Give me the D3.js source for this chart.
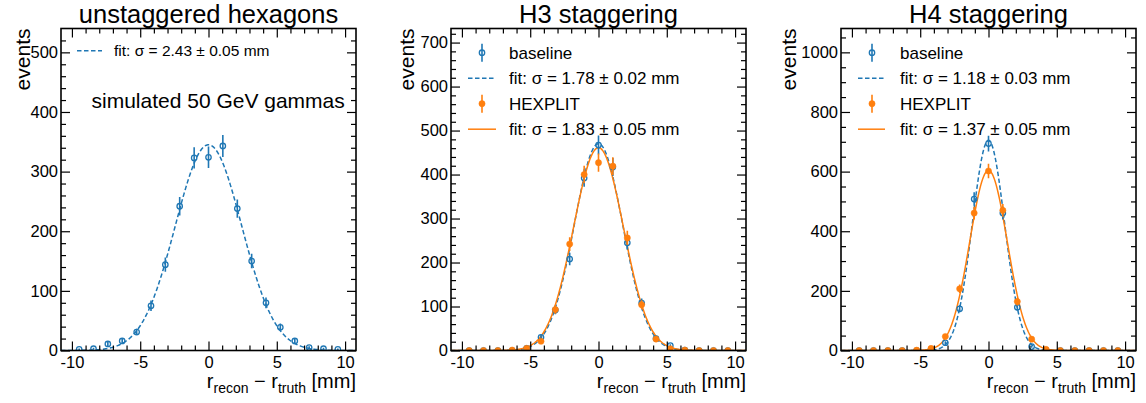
<!DOCTYPE html>
<html>
<head>
<meta charset="utf-8">
<script src="https://cdn.jsdelivr.net/npm/d3@7"></script>
<style>
  body { margin: 0; background: #fff; }
  text { font-family: "Liberation Sans", Arial, Helvetica, sans-serif; fill: #000; }
</style>
</head>
<body>
<div id="chart"></div>
<script>
// bin centres of the 19 bins between -10 and 10 mm
var binCenters = [-9.47, -8.42, -7.37, -6.32, -5.26, -4.21, -3.16, -2.11, -1.05, 0,
                  1.05, 2.11, 3.16, 4.21, 5.26, 6.32, 7.37, 8.42, 9.47]

var unstaggered = [2, 3, 11, 16, 31, 75, 144, 242, 323, 324, 343, 238, 150, 80, 39, 16, 5, 3, 2]
var h3Baseline  = [0, 0, 0, 0, 5, 30, 92, 208, 392, 467, 417, 245, 108, 27, 11, 1, 0, 0, 0]
var h3Hexplit   = [0, 0, 0, 1, 5, 21, 93, 242, 400, 427, 419, 256, 104, 26, 4, 1, 0, 0, 0]
var h4Baseline  = [0, 0, 0, 0, 0, 1, 26, 140, 508, 694, 461, 145, 13, 1, 0, 0, 0, 0, 0]
var h4Hexplit   = [0, 0, 0, 0, 1, 7, 47, 207, 461, 602, 470, 164, 38, 4, 0, 0, 0, 0, 0]

// gaussian fit results: [amplitude, mean, sigma]
var fitUnstaggered = [345, 0, 2.43]
var fitH3Baseline  = [470, 0, 1.78]
var fitH3Hexplit   = [461, 0, 1.83]
var fitH4Baseline  = [705, 0, 1.18]
var fitH4Hexplit   = [604, 0, 1.37]

var titles = ['unstaggered hexagons', 'H3 staggering', 'H4 staggering']
var xTicks = [-10, -5, 0, 5, 10]

var blue = '#1f77b4', orange = '#ff7f0e'

var width = 1146, height = 403
var top_ = 28.5, bottom_ = 350.5, panelW = 295

var svg = d3.select('#chart').append('svg')
  .attr('width', width)
  .attr('height', height)

var panels = [
  { left: 61, ymax: 540, yMajor: 100, yMinor: 20, ylabX: -31,
    series: [{ vals: unstaggered, color: blue, open: true, fit: fitUnstaggered, dashed: true }],
    legend: [{ type: 'line', color: blue, dashed: true, label: 'fit: σ = 2.43 ± 0.05 mm' }],
    legendSize: 15.5, legendY: 50.7, legendStep: 25.5, lineX: [16, 41], markX: 29, textX: 53,
    note: 'simulated 50 GeV gammas' },
  { left: 451, ymax: 732, yMajor: 100, yMinor: 20, ylabX: -37,
    series: [{ vals: h3Baseline, color: blue, open: true, fit: fitH3Baseline, dashed: true },
             { vals: h3Hexplit, color: orange, open: false, fit: fitH3Hexplit, dashed: false }],
    legend: [{ type: 'mark', color: blue, open: true, label: 'baseline' },
             { type: 'line', color: blue, dashed: true, label: 'fit: σ = 1.78 ± 0.02 mm' },
             { type: 'mark', color: orange, open: false, label: 'HEXPLIT' },
             { type: 'line', color: orange, dashed: false, label: 'fit: σ = 1.83 ± 0.05 mm' }],
    legendSize: 17, legendY: 52.7, legendStep: 25.5, lineX: [17, 45], markX: 31, textX: 58 },
  { left: 841, ymax: 1080, yMajor: 200, yMinor: 50, ylabX: -45,
    series: [{ vals: h4Baseline, color: blue, open: true, fit: fitH4Baseline, dashed: true },
             { vals: h4Hexplit, color: orange, open: false, fit: fitH4Hexplit, dashed: false }],
    legend: [{ type: 'mark', color: blue, open: true, label: 'baseline' },
             { type: 'line', color: blue, dashed: true, label: 'fit: σ = 1.18 ± 0.03 mm' },
             { type: 'mark', color: orange, open: false, label: 'HEXPLIT' },
             { type: 'line', color: orange, dashed: false, label: 'fit: σ = 1.37 ± 0.05 mm' }],
    legendSize: 17, legendY: 52.7, legendStep: 25.5, lineX: [17, 44], markX: 31, textX: 59 }
]

function gauss(p, x) {
  return p[0] * Math.exp(-0.5 * Math.pow((x - p[1]) / p[2], 2))
}

function drawMarker(g, x, y, err, color, open) {
  g.append('line')
    .attr('x1', x).attr('x2', x)
    .attr('y1', y - err).attr('y2', y + err)
    .style('stroke', color)
    .style('stroke-width', 1.6)
  g.append('circle')
    .attr('cx', x).attr('cy', y)
    .attr('r', open ? 2.7 : 3.1)
    .style('fill', open ? 'none' : color)
    .style('stroke', color)
    .style('stroke-width', open ? 1.3 : 0.5)
}

panels.forEach(function(p, k) {
  var xScale = d3.scaleLinear().domain([-10.8, 10.8]).range([0, panelW])
  var yScale = d3.scaleLinear().domain([0, p.ymax]).range([bottom_ - top_, 0])
  var h = bottom_ - top_

  var g = svg.append('g')
    .attr('transform', 'translate(' + p.left + ',' + top_ + ')')

  svg.append('clipPath').attr('id', 'clip' + k)
    .append('rect').attr('width', panelW).attr('height', h)

  var plot = g.append('g').attr('clip-path', 'url(#clip' + k + ')')

  // fit curves
  var xs = d3.range(-10.8, 10.81, 0.05)
  p.series.forEach(function(s) {
    var line = d3.line()
      .x(function(d) { return xScale(d) })
      .y(function(d) { return yScale(gauss(s.fit, d)) })
    plot.append('path')
      .attr('d', line(xs))
      .style('fill', 'none')
      .style('stroke', s.color)
      .style('stroke-width', 1.5)
      .style('stroke-dasharray', s.dashed ? '4.5,2.5' : null)
  })

  // data points with sqrt(N) errors
  p.series.forEach(function(s) {
    s.vals.forEach(function(v, i) {
      var err = Math.sqrt(v)
      var y0 = yScale(v)
      var e = yScale(v - err) - y0
      drawMarker(plot, xScale(binCenters[i]), y0, e, s.color, s.open)
    })
  })

  // axes, ticks inward on all sides
  var yMinorTicks = d3.range(0, p.ymax, p.yMinor).filter(function(d) { return d % p.yMajor !== 0 })
  var yMajorTicks = d3.range(0, p.ymax, p.yMajor)
  var xMinorTicks = d3.range(-10, 11, 1).filter(function(d) { return d % 5 !== 0 })

  function style(a) {
    a.select('.domain').remove()
    a.selectAll('line').style('stroke', '#000').style('stroke-width', 1.2)
    a.selectAll('text').style('font-size', '16.5px')
      .style('font-family', '"Liberation Sans", Arial, sans-serif')
  }

  g.append('g').attr('transform', 'translate(0,' + h + ')')
    .call(d3.axisBottom(xScale).tickValues(xTicks).tickSize(-9).tickPadding(6)
      .tickFormat(function(d) { return String(d) }))
    .call(style)
  g.append('g').attr('transform', 'translate(0,' + h + ')')
    .call(d3.axisBottom(xScale).tickValues(xMinorTicks).tickSize(-5).tickFormat(''))
    .call(style)
  g.append('g')
    .call(d3.axisTop(xScale).tickValues(xTicks).tickSize(-9).tickFormat(''))
    .call(style)
  g.append('g')
    .call(d3.axisTop(xScale).tickValues(xMinorTicks).tickSize(-5).tickFormat(''))
    .call(style)

  g.append('g')
    .call(d3.axisLeft(yScale).tickValues(yMajorTicks).tickSize(-9).tickPadding(3)
      .tickFormat(function(d) { return String(d) }))
    .call(style)
  g.append('g')
    .call(d3.axisLeft(yScale).tickValues(yMinorTicks).tickSize(-5).tickFormat(''))
    .call(style)
  g.append('g').attr('transform', 'translate(' + panelW + ',0)')
    .call(d3.axisRight(yScale).tickValues(yMajorTicks).tickSize(-9).tickFormat(''))
    .call(style)
  g.append('g').attr('transform', 'translate(' + panelW + ',0)')
    .call(d3.axisRight(yScale).tickValues(yMinorTicks).tickSize(-5).tickFormat(''))
    .call(style)

  g.append('rect')
    .attr('width', panelW).attr('height', h)
    .style('fill', 'none')
    .style('stroke', '#000')
    .style('stroke-width', 1.6)

  // title
  svg.append('text')
    .attr('x', p.left + panelW / 2)
    .attr('y', 22.5)
    .attr('text-anchor', 'middle')
    .style('font-size', '25.5px')
    .text(titles[k])

  // y label
  svg.append('text')
    .attr('transform', 'translate(' + (p.left + p.ylabX) + ',' + top_ + ') rotate(-90)')
    .attr('text-anchor', 'end')
    .style('font-size', '21px')
    .text('events')

  // x label
  var xl = svg.append('text')
    .attr('x', p.left + panelW)
    .attr('y', 388)
    .attr('text-anchor', 'end')
    .style('font-size', '20px')
  xl.append('tspan').text('r')
  xl.append('tspan').attr('dy', 5).style('font-size', '14px').text('recon')
  xl.append('tspan').attr('dy', -5).text(' − r')
  xl.append('tspan').attr('dy', 5).style('font-size', '14px').text('truth')
  xl.append('tspan').attr('dy', -5).text(' [mm]')

  // legend
  p.legend.forEach(function(l, i) {
    var ly = p.legendY + i * p.legendStep
    if (l.type === 'line') {
      g.append('line')
        .attr('x1', p.lineX[0]).attr('x2', p.lineX[1])
        .attr('y1', ly - top_).attr('y2', ly - top_)
        .style('stroke', l.color)
        .style('stroke-width', 1.5)
        .style('stroke-dasharray', l.dashed ? '4.5,2.5' : null)
    } else {
      drawMarker(g, p.markX, ly - top_, 9, l.color, l.open)
    }
    g.append('text')
      .attr('x', p.textX)
      .attr('y', ly - top_ + p.legendSize * 0.36)
      .style('font-size', p.legendSize + 'px')
      .text(l.label)
  })

  if (p.note) {
    svg.append('text')
      .attr('x', p.left + 30.5)
      .attr('y', 107.5)
      .style('font-size', '21px')
      .text(p.note)
  }
})
</script>
</body>
</html>
